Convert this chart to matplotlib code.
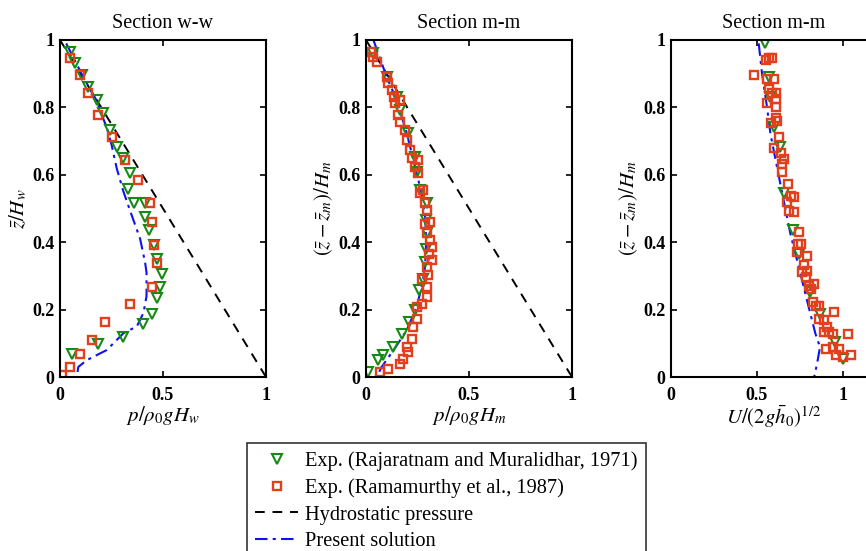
"""Pressure and velocity profiles at sections w-w and m-m."""

import matplotlib

matplotlib.use("Agg")
import matplotlib.pyplot as plt
from matplotlib.lines import Line2D

# --- Section w-w, pressure ---
ww_tri_p = [0.049, 0.073, 0.105, 0.138, 0.178, 0.211, 0.243, 0.276, 0.308, 0.340, 0.332, 0.357,
            0.413, 0.413, 0.430, 0.454, 0.470, 0.494, 0.486, 0.470, 0.446, 0.405, 0.308, 0.186, 0.057]
ww_tri_z = [0.965, 0.931, 0.896, 0.861, 0.822, 0.782, 0.733, 0.683, 0.649, 0.604, 0.559, 0.515,
            0.515, 0.475, 0.436, 0.391, 0.351, 0.307, 0.267, 0.233, 0.188, 0.158, 0.119, 0.099, 0.069]
ww_sq_p = [0.049, 0.097, 0.138, 0.186, 0.251, 0.316, 0.381, 0.438, 0.446, 0.454, 0.470, 0.446,
           0.340, 0.219, 0.154, 0.097, 0.049, 0.008]
ww_sq_z = [0.946, 0.896, 0.842, 0.777, 0.713, 0.644, 0.584, 0.515, 0.460, 0.391, 0.337, 0.267,
           0.218, 0.163, 0.109, 0.069, 0.030, 0.005]
ww_sol_p = [0.03, 0.113, 0.178, 0.195, 0.227, 0.25, 0.275, 0.308, 0.348, 0.389, 0.413, 0.42,
            0.42, 0.405, 0.373, 0.308, 0.227, 0.13, 0.089, 0.081]
ww_sol_z = [0.99, 0.89, 0.82, 0.79, 0.74, 0.69, 0.62, 0.55, 0.48, 0.41, 0.34, 0.31,
            0.24, 0.19, 0.15, 0.13, 0.08, 0.05, 0.03, 0.0]

# --- Section m-m, pressure ---
mm_tri_p = [0.036, 0.100, 0.149, 0.165, 0.206, 0.238, 0.246, 0.262, 0.295, 0.292, 0.295, 0.292,
            0.287, 0.279, 0.259, 0.238, 0.211, 0.174, 0.133, 0.084, 0.060, 0.011]
mm_tri_z = [0.960, 0.891, 0.832, 0.792, 0.723, 0.653, 0.609, 0.554, 0.515, 0.465, 0.426, 0.381,
            0.342, 0.292, 0.257, 0.198, 0.163, 0.129, 0.089, 0.064, 0.050, 0.015]
mm_sq_p = [0.024, 0.036, 0.052, 0.100, 0.109, 0.126, 0.134, 0.142, 0.165, 0.157, 0.165, 0.190,
           0.198, 0.214, 0.222, 0.254, 0.238, 0.254, 0.262, 0.279, 0.287, 0.295, 0.287, 0.311,
           0.295, 0.311, 0.320, 0.308, 0.320, 0.295, 0.303, 0.270, 0.295, 0.295, 0.270, 0.246,
           0.246, 0.230, 0.222, 0.198, 0.206, 0.182, 0.165, 0.109, 0.068]
mm_sq_z = [0.965, 0.950, 0.936, 0.891, 0.871, 0.851, 0.832, 0.812, 0.822, 0.777, 0.757, 0.733,
           0.703, 0.673, 0.649, 0.644, 0.624, 0.604, 0.545, 0.554, 0.515, 0.495, 0.455, 0.460,
           0.426, 0.406, 0.386, 0.366, 0.347, 0.327, 0.302, 0.292, 0.267, 0.238, 0.218, 0.208,
           0.173, 0.149, 0.114, 0.089, 0.074, 0.054, 0.040, 0.025, 0.015]
mm_sol_p = [0.036, 0.10, 0.149, 0.198, 0.238, 0.27, 0.287, 0.292, 0.287, 0.27, 0.246, 0.198,
            0.133, 0.076, 0.052]
mm_sol_z = [1.0, 0.891, 0.822, 0.723, 0.624, 0.545, 0.475, 0.406, 0.327, 0.267, 0.208, 0.139,
            0.079, 0.030, 0.0]

# --- Section m-m, velocity ---
vel_tri_u = [0.550, 0.569, 0.579, 0.598, 0.637, 0.656, 0.709, 0.744, 0.812, 0.870, 0.957, 1.000]
vel_tri_z = [0.990, 0.891, 0.832, 0.743, 0.683, 0.545, 0.436, 0.366, 0.252, 0.188, 0.104, 0.054]
vel_sq_u = [0.483, 0.552, 0.571, 0.591, 0.561, 0.600, 0.571, 0.591, 0.610, 0.557, 0.610, 0.610,
            0.610, 0.581, 0.620, 0.630, 0.600, 0.639, 0.659, 0.649, 0.649, 0.682, 0.698, 0.717,
            0.678, 0.688, 0.717, 0.746, 0.737, 0.756, 0.733, 0.791, 0.776, 0.795, 0.766, 0.786,
            0.805, 0.834, 0.815, 0.825, 0.844, 0.864, 0.864, 0.893, 0.947, 0.909, 0.893, 0.918,
            0.942, 1.029, 0.903, 0.942, 0.981, 0.961, 1.000, 1.049]
vel_sq_z = [0.895, 0.942, 0.948, 0.948, 0.884, 0.884, 0.855, 0.844, 0.844, 0.814, 0.824, 0.800,
            0.770, 0.755, 0.760, 0.711, 0.681, 0.666, 0.647, 0.632, 0.607, 0.573, 0.538, 0.533,
            0.518, 0.494, 0.491, 0.429, 0.395, 0.395, 0.370, 0.360, 0.331, 0.316, 0.311, 0.296,
            0.271, 0.276, 0.262, 0.222, 0.212, 0.210, 0.173, 0.168, 0.192, 0.148, 0.133, 0.133,
            0.128, 0.128, 0.084, 0.089, 0.084, 0.064, 0.059, 0.064]
vel_sol_u = [0.511, 0.53, 0.559, 0.579, 0.617, 0.656, 0.695, 0.744, 0.792, 0.841, 0.868, 0.851, 0.834]
vel_sol_z = [0.99, 0.901, 0.802, 0.723, 0.624, 0.525, 0.426, 0.327, 0.228, 0.129, 0.089, 0.040, 0.0]

hydro_p = [0.0, 1.0]
hydro_z = [1.0, 0.0]

titles = ["Section w-w", "Section m-m", "Section m-m"]
xlabels = [r"$p/\rho_0 g H_w$", r"$p/\rho_0 g H_m$", r"$U/(2g\bar{h}_0)^{1/2}$"]
ylabels = [r"$\bar{z}/H_w$", r"$(\bar{z}-\bar{z}_m)/H_m$", r"$(\bar{z}-\bar{z}_m)/H_m$"]
xticks = [0, 0.5, 1]
xticklabels = ["0", "0.5", "1"]
yticks = [0, 0.2, 0.4, 0.6, 0.8, 1]
yticklabels = ["0", "0.2", "0.4", "0.6", "0.8", "1"]
legend_labels = [
    "Exp. (Rajaratnam and Muralidhar, 1971)",
    "Exp. (Ramamurthy et al., 1987)",
    "Hydrostatic pressure",
    "Present solution",
]

GREEN = "#168a16"
RED = "#e2401c"
BLUE = "#1010f0"

plt.rcParams["font.family"] = ["Liberation Serif", "DejaVu Serif"]
plt.rcParams["mathtext.fontset"] = "stix"

W, H = 866, 551
fig = plt.figure(figsize=(W / 100, H / 100), dpi=100)


def make_axes(left_px, width_px):
    return fig.add_axes([left_px / W, (H - 377) / H, width_px / W, 337 / H])


def style(ax, i, xmax):
    ax.set_xlim(0, xmax)
    ax.set_ylim(0, 1)
    ax.set_xticks(xticks)
    ax.set_xticklabels(xticklabels)
    ax.set_yticks(yticks)
    ax.set_yticklabels(yticklabels)
    ax.tick_params(direction="in", top=True, right=True, length=4, width=1.2,
                   labelsize=13)
    ax.tick_params(axis="x", pad=7)
    ax.tick_params(axis="y", pad=4)
    for lab in ax.get_xticklabels() + ax.get_yticklabels():
        lab.set_fontweight("bold")
    for sp in ax.spines.values():
        sp.set_linewidth(1.5)
    ax.set_title(titles[i], fontsize=14.5, pad=9)
    ax.set_xlabel(xlabels[i], fontsize=15, labelpad=0)
    ax.set_ylabel(ylabels[i], fontsize=15, labelpad=2)


tri_kw = dict(ls="none", marker="v", mfc="none", mec=GREEN, ms=7, mew=1.5)
sq_kw = dict(ls="none", marker="s", mfc="none", mec=RED, ms=5.8, mew=1.7)
hyd_kw = dict(color="k", ls=(0, (5, 4)), lw=1.4)
sol_kw = dict(color=BLUE, ls=(0, (6, 2.5, 1.5, 2.5)), lw=1.5)

ax1 = make_axes(60, 206)
ax1.plot(hydro_p, hydro_z, **hyd_kw)
ax1.plot(ww_sol_p, ww_sol_z, **sol_kw)
ax1.plot(ww_tri_p, ww_tri_z, **tri_kw)
ax1.plot(ww_sq_p, ww_sq_z, **sq_kw)
style(ax1, 0, 1)

ax2 = make_axes(366, 206)
ax2.plot(hydro_p, hydro_z, **hyd_kw)
ax2.plot(mm_sol_p, mm_sol_z, **sol_kw)
ax2.plot(mm_tri_p, mm_tri_z, **tri_kw)
ax2.plot(mm_sq_p, mm_sq_z, **sq_kw)
style(ax2, 1, 1)

ax3 = make_axes(671, 206)
ax3.plot(vel_sol_u, vel_sol_z, **sol_kw)
ax3.plot(vel_tri_u, vel_tri_z, **tri_kw)
ax3.plot(vel_sq_u, vel_sq_z, **sq_kw)
style(ax3, 2, 1.2)

handles = [
    Line2D([], [], **tri_kw),
    Line2D([], [], **sq_kw),
    Line2D([], [], **hyd_kw),
    Line2D([], [], **sol_kw),
]
leg = fig.legend(handles, legend_labels, loc="upper left",
                 bbox_to_anchor=(247 / W, (H - 443) / H), fontsize=14.7,
                 frameon=True, fancybox=False, borderpad=0.4, labelspacing=0.36,
                 handlelength=2.1, handletextpad=0.35, borderaxespad=0)
leg.get_frame().set_edgecolor("k")
leg.get_frame().set_linewidth(1.2)

fig.savefig("out.png", dpi=100)
